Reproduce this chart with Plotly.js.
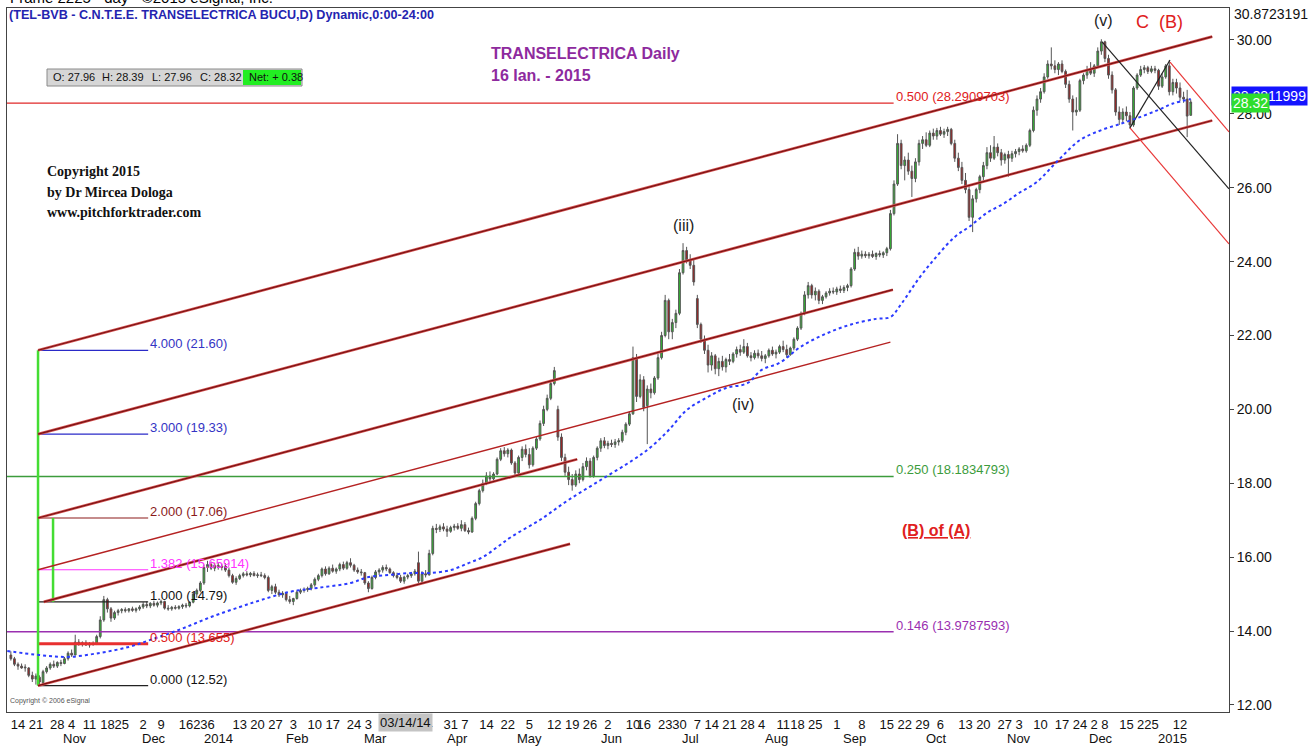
<!DOCTYPE html>
<html><head><meta charset="utf-8">
<script src="https://cdn.plot.ly/plotly-3.0.1.min.js"></script>
<style>html,body{margin:0;padding:0;background:#fff;}#chart{width:1308px;height:746px;}</style>
</head><body><div id="chart"></div>
<script>
// ---- daily OHLC (trading-day index 0..330) ----
const open=[13.35,13.25,13.10,13.05,13.00,13.00,12.80,12.70,12.75,12.60,
12.90,13.00,13.10,13.05,13.15,13.12,13.25,13.40,13.35,13.70,
13.65,13.68,13.62,13.66,13.64,13.85,14.30,14.85,14.60,14.35,
14.50,14.55,14.58,14.55,14.60,14.56,14.60,14.65,14.72,14.68,
14.75,14.70,14.76,14.80,14.62,14.60,14.64,14.62,14.66,14.70,
14.68,14.78,15.00,15.10,15.30,15.72,15.80,15.70,15.78,15.72,
15.76,15.65,15.50,15.32,15.42,15.50,15.55,15.52,15.56,15.50,
15.52,15.50,15.45,15.10,15.20,15.05,14.98,15.02,14.85,14.80,
14.88,15.05,15.10,15.12,15.15,15.25,15.40,15.50,15.68,15.55,
15.70,15.62,15.68,15.80,15.70,15.85,15.78,15.65,15.60,15.58,
15.30,15.15,15.45,15.60,15.65,15.72,15.68,15.58,15.50,15.45,
15.35,15.46,15.50,15.55,15.85,15.35,15.55,15.52,16.10,16.78,
16.75,16.82,16.76,16.70,16.80,16.84,16.78,16.88,16.72,16.68,
17.05,17.45,17.80,18.00,18.20,18.12,18.25,18.65,18.88,18.80,
18.90,18.55,18.28,18.70,18.92,18.78,18.50,18.95,19.20,19.62,
20.00,20.30,20.70,20.00,19.25,18.70,18.30,18.10,17.95,18.25,
18.10,18.45,18.60,18.20,18.70,18.95,19.15,19.02,19.08,19.05,
19.12,19.15,19.38,19.60,19.88,21.40,20.35,20.80,20.10,20.55,
20.45,20.85,21.40,22.00,22.95,22.10,22.35,22.60,23.70,24.30,
24.05,23.90,23.00,22.30,21.90,21.60,21.20,21.45,21.10,21.30,
21.15,21.35,21.30,21.50,21.62,21.55,21.70,21.45,21.40,21.52,
21.45,21.38,21.45,21.60,21.50,21.55,21.70,21.62,21.48,21.66,
21.90,22.20,22.60,23.10,23.35,23.10,23.20,22.95,23.05,23.15,
23.20,23.18,23.26,23.22,23.30,23.35,23.80,24.25,24.15,24.20,
24.16,24.20,24.14,24.22,24.18,24.24,24.35,25.30,26.10,27.20,
26.60,26.75,26.45,26.25,26.70,27.20,27.30,27.15,27.48,27.40,
27.55,27.45,27.52,27.58,27.20,26.80,26.55,26.20,25.95,25.20,
25.70,25.95,26.30,26.60,26.95,26.80,27.10,26.95,26.75,26.90,
26.80,26.92,26.98,27.05,27.00,27.15,27.55,28.10,28.40,28.60,
29.00,29.35,29.30,29.20,29.35,29.15,28.80,28.40,28.05,28.10,
28.90,29.05,29.20,29.10,29.30,29.70,29.95,29.50,29.05,28.65,
28.05,27.85,28.05,27.95,27.70,28.70,29.05,29.20,29.25,29.15,
29.22,29.18,28.75,29.00,29.30,28.60,28.85,28.70,28.45,28.40,
27.96];
const high=[13.45,13.30,13.15,13.12,13.10,13.02,12.90,12.85,12.80,12.95,
13.05,13.15,13.20,13.18,13.22,13.30,13.45,13.50,13.90,13.78,
13.72,13.75,13.70,13.72,13.90,14.40,14.95,14.90,14.65,14.55,
14.60,14.62,14.64,14.62,14.66,14.64,14.70,14.78,14.80,14.78,
14.82,14.80,14.85,14.82,14.70,14.68,14.70,14.70,14.74,14.76,
14.80,15.05,15.15,15.35,15.80,15.90,15.88,15.85,15.86,15.82,
15.84,15.72,15.55,15.48,15.55,15.60,15.62,15.60,15.62,15.58,
15.60,15.56,15.50,15.25,15.28,15.12,15.08,15.06,14.95,14.90,
15.10,15.15,15.18,15.20,15.30,15.45,15.55,15.72,15.75,15.75,
15.80,15.72,15.85,15.88,15.90,15.97,15.82,15.72,15.68,15.60,
15.35,15.50,15.65,15.70,15.78,15.80,15.72,15.62,15.58,15.52,
15.50,15.55,15.60,15.68,16.15,15.62,15.65,16.20,16.85,16.90,
16.88,16.92,16.85,16.85,16.90,16.92,17.00,16.95,16.80,17.10,
17.50,17.85,18.10,18.30,18.32,18.30,18.70,18.95,18.98,18.95,
18.94,18.60,18.75,19.00,19.05,18.95,19.00,19.25,19.70,20.10,
20.40,20.80,21.15,20.10,19.35,18.80,18.45,18.25,18.35,18.40,
18.55,18.70,18.68,18.75,19.00,19.22,19.25,19.15,19.18,19.20,
19.22,19.45,19.65,19.95,21.70,21.50,20.95,20.90,20.65,20.70,
20.90,21.50,22.10,23.10,23.00,22.45,22.70,23.80,24.50,24.40,
24.20,24.05,23.10,22.35,22.00,21.75,21.55,21.50,21.40,21.45,
21.40,21.50,21.55,21.70,21.75,21.90,21.80,21.55,21.60,21.62,
21.58,21.50,21.65,21.70,21.62,21.75,21.86,21.75,21.70,21.95,
22.25,22.65,23.20,23.45,23.40,23.30,23.25,23.10,23.20,23.28,
23.30,23.32,23.35,23.36,23.40,23.85,24.35,24.40,24.30,24.28,
24.26,24.30,24.25,24.30,24.28,24.40,25.40,26.20,27.45,27.30,
26.85,26.95,26.60,26.80,27.30,27.40,27.50,27.55,27.60,27.62,
27.65,27.60,27.65,27.62,27.30,26.95,26.70,26.40,26.05,25.80,
26.00,26.35,26.70,27.10,27.15,27.40,27.20,27.05,26.95,27.00,
27.00,27.05,27.10,27.15,27.20,27.60,28.20,28.50,28.70,29.10,
29.45,29.80,29.45,29.40,29.45,29.20,28.90,28.50,28.45,28.95,
29.10,29.30,29.40,29.35,29.80,30.02,29.98,29.60,29.15,28.70,
28.20,28.15,28.20,28.05,28.75,29.10,29.30,29.32,29.30,29.30,
29.30,29.22,29.10,29.35,29.45,28.95,28.95,28.85,28.60,28.65,
28.39];
const low=[13.20,13.05,12.95,12.98,12.90,12.75,12.62,12.55,12.52,12.55,
12.85,12.95,13.00,13.00,13.05,13.10,13.20,13.30,13.35,13.60,
13.58,13.60,13.55,13.60,13.62,13.80,14.25,14.50,14.25,14.30,
14.42,14.48,14.50,14.50,14.52,14.50,14.55,14.60,14.62,14.62,
14.66,14.64,14.70,14.58,14.55,14.55,14.58,14.58,14.60,14.62,
14.64,14.75,14.90,15.05,15.25,15.60,15.65,15.62,15.66,15.64,
15.60,15.45,15.28,15.25,15.38,15.45,15.48,15.46,15.48,15.44,
15.46,15.40,15.05,15.00,15.00,14.92,14.90,14.80,14.74,14.70,
14.85,15.00,15.04,15.06,15.10,15.20,15.35,15.45,15.50,15.52,
15.58,15.55,15.62,15.65,15.66,15.72,15.60,15.55,15.50,15.25,
15.05,15.12,15.40,15.52,15.58,15.62,15.55,15.45,15.40,15.30,
15.28,15.40,15.44,15.50,15.26,15.30,15.45,15.50,16.05,16.65,
16.68,16.70,16.55,16.66,16.72,16.74,16.70,16.68,16.62,16.66,
17.00,17.40,17.75,17.95,18.05,18.08,18.22,18.60,18.72,18.70,
18.50,18.20,18.25,18.60,18.70,18.40,18.45,18.90,19.15,19.55,
19.95,20.25,20.65,19.15,18.60,18.20,17.95,17.80,17.90,18.00,
18.05,18.35,18.15,18.15,18.62,18.85,18.95,18.92,18.98,18.96,
19.02,19.10,19.30,19.55,19.85,20.20,20.30,19.95,19.06,20.30,
20.40,20.80,21.35,21.95,21.90,21.90,22.20,22.55,23.65,23.95,
23.80,23.35,22.20,21.80,21.50,21.00,21.05,20.95,20.90,21.05,
21.00,21.20,21.25,21.40,21.45,21.50,21.40,21.30,21.35,21.38,
21.30,21.25,21.40,21.45,21.38,21.50,21.55,21.40,21.45,21.60,
21.85,22.15,22.55,23.00,23.00,22.95,22.85,22.85,23.00,23.08,
23.12,23.10,23.15,23.15,23.20,23.30,23.75,24.05,24.08,24.10,
24.08,24.10,24.05,24.12,24.10,24.15,24.30,25.25,26.05,26.50,
26.20,26.35,25.75,26.15,26.60,27.05,27.10,27.10,27.30,27.30,
27.40,27.35,27.40,27.15,26.70,26.45,26.10,25.85,25.10,24.80,
25.60,25.85,26.20,26.50,26.70,26.75,26.85,26.60,26.65,26.30,
26.70,26.82,26.88,26.95,26.95,27.10,27.50,27.95,28.30,28.55,
28.95,29.20,29.10,29.05,29.10,28.70,28.30,27.55,27.95,28.05,
28.80,28.95,29.05,29.00,29.25,29.60,29.40,28.95,28.55,27.95,
27.70,27.75,27.80,27.60,27.65,28.65,29.00,29.10,29.08,29.10,
29.10,28.65,28.70,28.95,28.50,28.50,28.55,28.35,28.30,27.37,
27.96];
const close=[13.25,13.10,13.05,13.00,13.02,12.80,12.70,12.78,12.62,12.90,
13.00,13.10,13.05,13.15,13.12,13.25,13.40,13.35,13.70,13.65,
13.68,13.62,13.66,13.64,13.85,14.30,14.85,14.60,14.35,14.50,
14.55,14.58,14.55,14.60,14.56,14.60,14.65,14.72,14.68,14.75,
14.70,14.76,14.80,14.62,14.60,14.64,14.62,14.66,14.70,14.68,
14.78,15.00,15.10,15.30,15.72,15.80,15.70,15.78,15.72,15.76,
15.65,15.50,15.32,15.42,15.50,15.55,15.52,15.56,15.50,15.52,
15.50,15.45,15.10,15.20,15.05,14.98,15.02,14.85,14.80,14.88,
15.05,15.10,15.12,15.15,15.25,15.40,15.50,15.68,15.55,15.70,
15.62,15.68,15.80,15.70,15.85,15.78,15.65,15.60,15.58,15.30,
15.15,15.45,15.60,15.65,15.72,15.68,15.58,15.50,15.45,15.35,
15.46,15.50,15.55,15.62,15.35,15.55,15.52,16.10,16.78,16.75,
16.82,16.76,16.70,16.80,16.84,16.78,16.88,16.72,16.68,17.05,
17.45,17.80,18.00,18.20,18.12,18.25,18.65,18.88,18.80,18.90,
18.55,18.28,18.70,18.92,18.78,18.50,18.95,19.20,19.62,20.00,
20.30,20.70,21.05,19.25,18.70,18.30,18.10,17.95,18.25,18.10,
18.45,18.60,18.20,18.70,18.95,19.15,19.02,19.08,19.05,19.12,
19.15,19.38,19.60,19.88,21.40,20.35,20.80,20.05,20.55,20.45,
20.85,21.40,22.00,22.95,22.10,22.35,22.60,23.70,24.30,24.05,
23.90,23.45,22.30,21.90,21.60,21.20,21.45,21.10,21.30,21.15,
21.35,21.30,21.50,21.62,21.55,21.70,21.45,21.40,21.52,21.45,
21.38,21.45,21.60,21.50,21.55,21.70,21.62,21.48,21.66,21.90,
22.20,22.60,23.10,23.35,23.10,23.20,22.95,23.05,23.15,23.20,
23.18,23.26,23.22,23.30,23.35,23.80,24.25,24.15,24.20,24.16,
24.20,24.14,24.22,24.18,24.24,24.35,25.30,26.10,27.20,26.60,
26.75,26.45,26.25,26.70,27.20,27.30,27.15,27.48,27.40,27.55,
27.45,27.52,27.58,27.20,26.80,26.55,26.20,25.95,25.20,25.70,
25.95,26.30,26.60,26.95,26.80,27.10,26.95,26.75,26.90,26.80,
26.92,26.98,27.05,27.00,27.15,27.55,28.10,28.40,28.60,29.00,
29.35,29.30,29.20,29.35,29.15,28.80,28.40,28.05,28.10,28.90,
29.05,29.20,29.10,29.30,29.70,29.95,29.50,29.05,28.65,28.05,
27.85,28.05,27.95,27.70,28.70,29.05,29.20,29.25,29.15,29.22,
29.18,28.75,29.00,29.30,28.60,28.85,28.70,28.45,28.40,27.94,
28.32];

// ---- moving average (blue dotted), read at sample days ----
const maDay=[-1,8,16,25,33,39,47,56,64,70,78,86,95,100,106,112,117,123,128,132,136,140,148,156,165,174,179,184,189,195,200,206,210,215,221,228,235,242,246,249,254,259,264,268,273,278,282,287,293,299,305,311,316,321,325,330];
const maValue=[13.46,13.35,13.30,13.41,13.57,13.76,14.03,14.38,14.65,14.84,15.06,15.17,15.30,15.46,15.52,15.57,15.57,15.65,15.84,16.00,16.27,16.55,17.01,17.55,18.09,18.63,18.98,19.44,19.98,20.34,20.58,20.71,21.07,21.26,21.70,22.05,22.30,22.45,22.50,22.85,23.55,24.15,24.67,24.94,25.32,25.59,25.86,26.16,26.75,27.29,27.56,27.75,27.92,28.11,28.28,28.40];

// ---- axis labels ----
const tickDays=[2,7,13,17,22,27,31,37,42,49,53,56,64,69,74,79,85,90,96,100,116,123,127,133,139,145,152,157,162,167,174,177,183,187,192,196,201,206,210,216,220,225,231,238,245,250,255,260,267,272,278,282,288,294,299,303,306,312,317,320,327];
const tickLabels=['14','21','28','4','11','18','25','2','9','16','23','6','13','20','27','3','10','17','24','3','24','31','7','14','22','5','12','19','26','2','10','16','23','30','7','14','21','28','4','11','18','25','1','8','15','22','29','6','13','20','27','3','10','17','24','2','8','15','22','5','12'];
const monthDays=[18,40,58,80,102,125,145,168,190,214,236,259,282,305,325];
const monthLabels=['Nov','Dec','2014','Feb','Mar','Apr','May','Jun','Jul','Aug','Sep','Oct','Nov','Dec','2015'];
const priceTicks=[12,14,16,18,20,22,24,26,28,30];

// ---- Fibonacci expansion levels (left) ----
const fibLevels=[21.60,19.33,17.06,15.65914,14.79,13.655,12.52];
const fibLabels=['4.000 (21.60)','3.000 (19.33)','2.000 (17.06)','1.382 (15.65914)','1.000 (14.79)','0.500 (13.655)','0.000 (12.52)'];
const fibStartDay=7.6, fibEndDay=38.4;
// ---- retracement levels (full width) ----
const retLevels=[28.2909703,18.1834793,13.9787593];
const retLabels=['0.500 (28.2909703)','0.250 (18.1834793)','0.146 (13.9787593)'];
const retEndDay=246.9;
// ---- pitchfork channel lines ----
const forkStartDay=[7.6,7.6,7.6,7.6,9.2,7.6];
const forkStartPrice=[21.60,19.33,17.06,15.66,14.79,12.52];
const forkEndDay=[336,336,246.7,246,158.4,156.4];
const forkEndPrice=[30.09,27.82,23.24,21.82,18.65,16.36];
// ---- small fork lines near the end ----
const smallStartDay=[305.2,313,324.2,313];
const smallStartPrice=[29.95,27.62,29.40,27.62];
const smallEndDay=[340.7,324.2,340.7,340.7];
const smallEndPrice=[25.97,29.46,27.51,24.48];
// ---- green measuring verticals ----
const vertDay=[7.6,11.8];
const vertFrom=[12.52,14.79];
const vertTo=[21.60,17.06];

const NARROW="'Liberation Sans Narrow','Arial Narrow','Liberation Sans',Arial,sans-serif";
const ARIAL="'Liberation Sans',Arial,sans-serif";
const SERIF="'Liberation Serif','Times New Roman',serif";

const L=7,R=1229,T=8,B=712;
const px=x=>(x-L)/(R-L), py=y=>(B-y)/(B-T);

const idx=close.map((_,i)=>i);
const traces=[];

const retColors=['#E02828','#3C9C3C','#9A2FB0'];
retLevels.forEach((v,k)=>traces.push({type:'scatter',mode:'lines',x:[-1.08,retEndDay],y:[v,v],line:{color:retColors[k],width:k===0?1.1:1.5},hoverinfo:'skip'}));

const fibColors=['#2A2AC8','#2A2AC8','#8B1A1A','#FF33FF','#222222','#E83030','#222222'];
fibLevels.forEach((v,k)=>traces.push({type:'scatter',mode:'lines',x:[fibStartDay,fibEndDay],y:[v,v],line:{color:fibColors[k],width:k===5?3:1.2},hoverinfo:'skip'}));

vertDay.forEach((d,k)=>traces.push({type:'scatter',mode:'lines',x:[d,d],y:[vertFrom[k],vertTo[k]],line:{color:'#44DD33',width:2.5},hoverinfo:'skip'}));

forkStartDay.forEach((d,k)=>{
  if(k===3){
    traces.push({type:'scatter',mode:'lines',x:[d,forkEndDay[k]],y:[forkStartPrice[k],forkEndPrice[k]],line:{color:'#B52222',width:1.4},hoverinfo:'skip'});
  } else {
    traces.push({type:'scatter',mode:'lines',x:[d,forkEndDay[k]],y:[forkStartPrice[k],forkEndPrice[k]],line:{color:'#D45252',width:2.7},hoverinfo:'skip'});
    traces.push({type:'scatter',mode:'lines',x:[d,forkEndDay[k]],y:[forkStartPrice[k],forkEndPrice[k]],line:{color:'#7A1212',width:1.2},hoverinfo:'skip'});
  }
});

traces.push({type:'candlestick',x:idx,open:open,high:high,low:low,close:close,
  increasing:{line:{color:'#555555',width:1},fillcolor:'#2FC02F'},
  decreasing:{line:{color:'#555555',width:1},fillcolor:'#A51C1C'},
  whiskerwidth:0,hoverinfo:'skip'});

const smallColors=['#222222','#222222','#E83838','#E83838'];
smallStartDay.forEach((d,k)=>traces.push({type:'scatter',mode:'lines',x:[d,smallEndDay[k]],y:[smallStartPrice[k],smallEndPrice[k]],line:{color:smallColors[k],width:1.2},hoverinfo:'skip'}));

traces.push({type:'scatter',mode:'lines',x:maDay,y:maValue,line:{color:'#2B3BFF',width:2,dash:'dot',shape:'spline'},hoverinfo:'skip'});

const ann=[];
const fibLabelColors=['#3434C4','#3434C4','#8B1A1A','#FF33FF','#111111','#E02020','#111111'];
fibLevels.forEach((v,k)=>ann.push({xref:'x',yref:'y',x:fibEndDay,y:v,text:fibLabels[k],showarrow:false,xanchor:'left',yanchor:'bottom',yshift:-3,font:{family:NARROW,size:13,color:fibLabelColors[k]}}));
retLevels.forEach((v,k)=>ann.push({xref:'x',yref:'y',x:retEndDay,y:v,text:retLabels[k],showarrow:false,xanchor:'left',yanchor:'bottom',yshift:-3,font:{family:NARROW,size:13,color:['#E02020','#3C9C3C','#9A2FB0'][k]}}));

const waveText=['(iii)','(iv)','(v)'];
const waveDay=[188,204.8,305.5];
const wavePrice=[24.99,20.12,30.54];
waveText.forEach((t,k)=>ann.push({xref:'x',yref:'y',x:waveDay[k],y:wavePrice[k],text:t,showarrow:false,font:{family:ARIAL,size:16,color:'#222'}}));
ann.push({xref:'x',yref:'y',x:316.4,y:30.49,text:'C',showarrow:false,font:{family:ARIAL,size:18,color:'#E02020'}});
ann.push({xref:'x',yref:'y',x:324.5,y:30.49,text:'(B)',showarrow:false,font:{family:ARIAL,size:18,color:'#E02020'}});
ann.push({xref:'x',yref:'y',x:258.8,y:16.73,text:'<b><u>(B) of (A)</u></b>',showarrow:false,font:{family:NARROW,size:16,color:'#E02020'}});

ann.push({xref:'paper',yref:'paper',x:px(8),y:py(-3),xanchor:'left',yanchor:'middle',text:'Frame 2225 - day - ©2015 eSignal, Inc.',showarrow:false,font:{family:ARIAL,size:15,color:'#000'}});
ann.push({xref:'paper',yref:'paper',x:px(7),y:py(15),xanchor:'left',yanchor:'middle',text:'<b>(TEL-BVB - C.N.T.E.E. TRANSELECTRICA BUCU,D) Dynamic,0:00-24:00</b>',showarrow:false,font:{family:NARROW,size:12.6,color:'#2424B0'}});
ann.push({xref:'paper',yref:'paper',x:px(489),y:py(54),xanchor:'left',yanchor:'middle',text:'<b>TRANSELECTRICA Daily</b>',showarrow:false,font:{family:NARROW,size:16,color:'#8E2A9E'}});
ann.push({xref:'paper',yref:'paper',x:px(489),y:py(76),xanchor:'left',yanchor:'middle',text:'<b>16 Ian. - 2015</b>',showarrow:false,font:{family:NARROW,size:16,color:'#8E2A9E'}});
['Copyright 2015','by Dr Mircea Dologa','www.pitchforktrader.com'].forEach((t,k)=>ann.push({xref:'paper',yref:'paper',x:px(45),y:py(172+20*k),xanchor:'left',yanchor:'middle',text:'<b>'+t+'</b>',showarrow:false,font:{family:SERIF,size:14,color:'#111'}}));
ann.push({xref:'paper',yref:'paper',x:px(8),y:py(701),xanchor:'left',yanchor:'middle',text:'Copyright © 2006 eSignal',showarrow:false,font:{family:NARROW,size:7,color:'#555'}});

const last=close.length-1;
const net=(close[last]-close[last-1]).toFixed(2);
const ohlcText=['O: '+open[last].toFixed(2),'H: '+high[last].toFixed(2),'L: '+low[last].toFixed(2),'C: '+close[last].toFixed(2)];
const ohlcX=[51,100,150,198];
ohlcText.forEach((t,k)=>ann.push({xref:'paper',yref:'paper',x:px(ohlcX[k]),y:py(77),xanchor:'left',yanchor:'middle',text:t,showarrow:false,font:{family:NARROW,size:11,color:'#111'}}));
ann.push({xref:'paper',yref:'paper',x:px(247),y:py(77),xanchor:'left',yanchor:'middle',text:'Net: + '+net,showarrow:false,font:{family:NARROW,size:11,color:'#111'}});

monthLabels.forEach((t,k)=>ann.push({xref:'x',yref:'paper',x:monthDays[k],y:0,yanchor:'top',yshift:-17,text:t,showarrow:false,font:{family:NARROW,size:13,color:'#111'}}));
ann.push({xref:'x',yref:'paper',x:110.3,y:0,yanchor:'top',yshift:-1,text:'03/14/14',showarrow:false,bgcolor:'#C4C4C4',borderpad:1,font:{family:NARROW,size:13,color:'#111'}});

ann.push({xref:'paper',yref:'paper',x:px(1232),y:py(14),xanchor:'left',yanchor:'middle',text:'30.8723191',showarrow:false,font:{family:NARROW,size:14,color:'#111'}});
ann.push({xref:'paper',yref:'paper',x:px(1231),y:py(96),xanchor:'left',yanchor:'middle',text:'28.2811999',showarrow:false,bgcolor:'#1414FF',borderpad:1,font:{family:NARROW,size:14,color:'#fff'}});
ann.push({xref:'paper',yref:'paper',x:px(1231),y:py(103),xanchor:'left',yanchor:'middle',text:close[last].toFixed(2),showarrow:false,bgcolor:'#2EDD2E',borderpad:1,font:{family:NARROW,size:14,color:'#fff'}});

const shapes=[
 {type:'rect',xref:'paper',yref:'paper',x0:px(47),x1:px(302),y0:py(86),y1:py(69),fillcolor:'#D6D6D6',line:{color:'#8a8a8a',width:1},layer:'above'},
 {type:'rect',xref:'paper',yref:'paper',x0:px(243),x1:px(301),y0:py(85),y1:py(70),fillcolor:'#22EE22',line:{width:0},layer:'above'}
];

const layout={
  width:1308,height:746,
  margin:{l:L,r:1308-R,t:T,b:746-B,pad:0},
  paper_bgcolor:'#fff',plot_bgcolor:'#fff',showlegend:false,
  xaxis:{range:[-1.08,340.7],tickvals:tickDays,ticktext:tickLabels,ticks:'',tickangle:0,
    tickfont:{family:NARROW,size:13,color:'#111'},showgrid:false,zeroline:false,
    showline:true,mirror:true,linecolor:'#444',linewidth:1,rangeslider:{visible:false},fixedrange:true},
  yaxis:{side:'right',range:[11.808,30.866],tickvals:priceTicks,ticktext:priceTicks.map(v=>v.toFixed(2)),
    ticks:'outside',ticklen:4,tickcolor:'#444',tickfont:{family:NARROW,size:14,color:'#111'},
    showgrid:false,zeroline:false,showline:true,mirror:true,linecolor:'#444',linewidth:1,fixedrange:true},
  annotations:ann,shapes:shapes
};
Plotly.newPlot('chart',traces,layout,{staticPlot:true,displayModeBar:false});
</script></body></html>
